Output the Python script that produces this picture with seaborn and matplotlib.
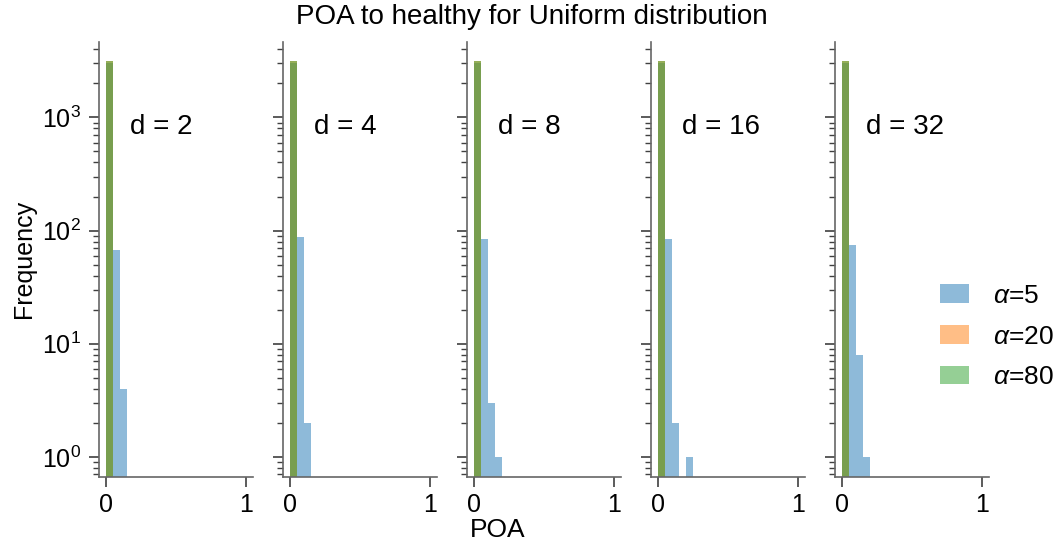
import numpy as np
import pandas as pd
import matplotlib
matplotlib.use("Agg")
import matplotlib.pyplot as plt
from matplotlib.patches import Patch
import seaborn as sns

# ---- data (counts per POA bin of width 0.05) ----
dims = [2, 4, 8, 16, 32]
alpha_labels = [r"$\alpha$=5", r"$\alpha$=20", r"$\alpha$=80"]
bin_width = 0.05
bin_range = (0.0, 1.0)
bin_centers = np.arange(20) * bin_width + bin_width / 2
total = 3125
# alpha=5 counts for bins 0.05-0.10, 0.10-0.15, 0.15-0.20, 0.20-0.25
a5_tail = {
    2: [68, 4, 0, 0],
    4: [87, 2, 0, 0],
    8: [84, 3, 1, 0],
    16: [84, 2, 0, 1],
    32: [74, 8, 1, 0],
}
# alpha=20 and alpha=80: all samples in the first bin
a20_first = total
a80_first = total

sns.set_style("ticks")
plt.rcParams["font.family"] = ["Liberation Sans", "DejaVu Sans"]
plt.rcParams["mathtext.fontset"] = "custom"
plt.rcParams["mathtext.rm"] = "Liberation Sans"
plt.rcParams["mathtext.it"] = "Liberation Sans:italic"
plt.rcParams["mathtext.bf"] = "Liberation Sans:bold"
plt.rcParams["text.color"] = "black"
plt.rcParams["axes.labelcolor"] = "black"
plt.rcParams["xtick.color"] = "black"
plt.rcParams["ytick.color"] = "black"

colors = sns.color_palette("tab10", 3)

fig, axes = plt.subplots(1, 5, figsize=(10.64, 5.41), dpi=100, sharey=True)
fig.subplots_adjust(left=0.093, right=0.9295, top=0.923, bottom=0.119, wspace=0.195)

for i, (ax, d) in enumerate(zip(axes, dims)):
    tail = a5_tail[d]
    a5 = [total - sum(tail)] + tail
    series = [
        [(bin_centers[j], c) for j, c in enumerate(a5) if c > 0],
        [(bin_centers[0], a20_first)],
        [(bin_centers[0], a80_first)],
    ]
    ax.set_yscale("log")
    for lab, col, rows in zip(alpha_labels, colors, series):
        df = pd.DataFrame(rows, columns=["POA", "count"])
        sns.histplot(data=df, x="POA", weights="count", color=col,
                     binwidth=bin_width, binrange=bin_range,
                     alpha=0.5, linewidth=0, ax=ax, label=lab)
    ax.set_xlim(-0.05, 1.05)
    ax.set_xticks([0, 1])
    ax.set_xticklabels(["0", "1"])
    ax.set_xlabel("")
    ax.set_ylabel("")
    ax.text(0.2, 0.804, f"d = {d}", transform=ax.transAxes, fontsize=20,
            ha="left", va="center")
    ax.tick_params(axis="both", labelsize=18, length=7, width=1.2,
                   color="0.25", labelcolor="black", pad=6)
    ax.tick_params(axis="x", pad=5)
    ax.tick_params(axis="y", which="minor", length=4, width=1, color="0.25")
    for s in ["left", "bottom"]:
        ax.spines[s].set_color("0.4")
        ax.spines[s].set_linewidth(1.2)
    sns.despine(ax=ax)

axes[0].set_ylabel("Frequency", fontsize=18)
handles = [Patch(facecolor=c, alpha=0.5, linewidth=0) for c in colors]
axes[-1].legend(handles, alpha_labels, loc="center left",
                bbox_to_anchor=(0.53, 0.322), frameon=False, fontsize=19,
                handlelength=1.1, handletextpad=0.9, labelspacing=0.63)
fig.suptitle("POA to healthy for Uniform distribution", fontsize=20, y=0.992)
fig.text(0.468, 0.008, "POA", ha="center", va="baseline", fontsize=19)

fig.savefig("out.png", dpi=100)
